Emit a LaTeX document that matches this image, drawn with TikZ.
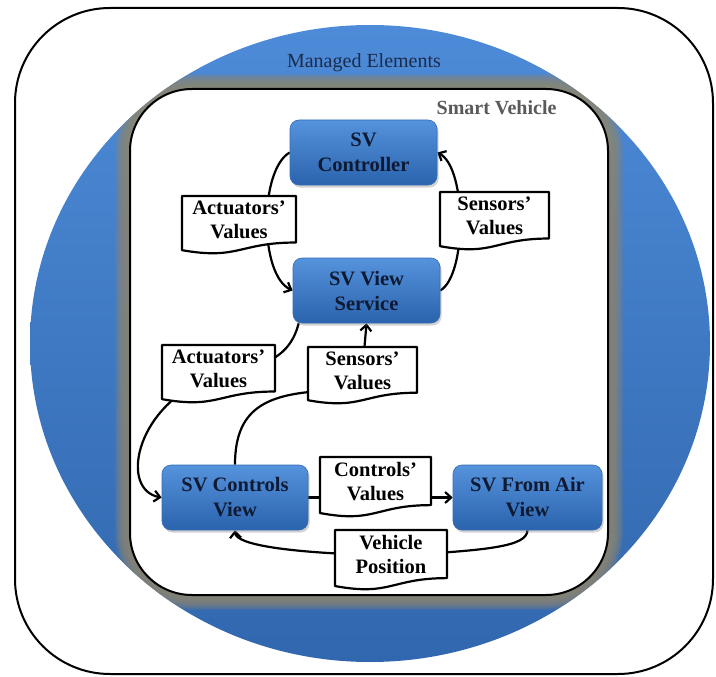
\documentclass[tikz,border=0pt]{standalone}
\usepackage{fontspec}
\setmainfont{Liberation Serif}
\usetikzlibrary{arrows.meta,shadows,calc}
\pgfdeclarelayer{back}
\pgfdeclarelayer{links}
\pgfsetlayers{back,links,main}

\definecolor{ringtop}{HTML}{4D8BD8}
\definecolor{ringbot}{HTML}{3167AE}
\definecolor{glow}{HTML}{8B8574}
\definecolor{boxtop}{HTML}{5593DC}
\definecolor{boxbot}{HTML}{2B63AD}
\definecolor{boxedge}{HTML}{336DB8}
\definecolor{boxtext}{HTML}{0E1A33}
\definecolor{titlenavy}{HTML}{1C2B4A}
\definecolor{svgray}{HTML}{5A5A5A}

\tikzset{
  svbox/.style={rounded corners=9pt, top color=boxtop, bottom color=boxbot,
    draw=boxedge, line width=0.6pt,
    drop shadow={opacity=0.35, shadow xshift=1.5pt, shadow yshift=-2.5pt},
    font=\bfseries\fontsize{20.5}{25}\selectfont, text=boxtext, align=center,
    inner sep=0pt},
  docshape/.style={fill=white, draw=black, line width=2.2pt, line join=round},
  doctext/.style={font=\bfseries\fontsize{20.5}{24}\selectfont, align=center,
    inner sep=0pt},
  link/.style={draw=black, line width=2.2pt},
  flow/.style={link, -{Straight Barb[length=6pt,width=11pt]}},
  frame/.style={fill=white, draw=black, line width=2pt},
}

% document symbol: name, left, top, width, height, text
\newcommand\docnode[6]{%
  \path[docshape] (#2,#3) -- ({#2+#4},#3) -- ({#2+#4},{#3+0.802*#5})
    .. controls ({#2+0.5*#4},{#3+0.802*#5}) and ({#2+0.5*#4},{#3+1.107*#5})
    .. (#2,{#3+0.934*#5}) -- cycle;
  \node[doctext] (#1) at ({#2+0.5*#4},{#3+0.41*#5}) {#6};
}

\begin{document}
\begin{tikzpicture}[x=1pt,y=-1pt]
\useasboundingbox (0,0) rectangle (716,677);

\begin{pgfonlayer}{back}
  % outer frame
  \path[frame, rounded corners=95pt] (15,8) rectangle (713,674);
  % managed elements disc
  \path[top color=ringtop, bottom color=ringbot]
    (370,343.5) ellipse [x radius=340pt, y radius=318.5pt];
  % soft grey rim around the smart vehicle panel
  \begin{scope}
    \clip (370,343.5) ellipse [x radius=340pt, y radius=318.5pt];
    \foreach \d in {15,14,...,1}{
      \pgfmathsetmacro\rr{62+\d}
      \fill[glow, opacity=0.17, rounded corners=\rr pt]
        ({130-\d},{89-\d}) rectangle ({608+\d},{595+\d});
    }
  \end{scope}
  % smart vehicle panel
  \path[frame, rounded corners=62pt] (130,89) rectangle (608,595);
\end{pgfonlayer}

\node[font=\fontsize{20}{24}\selectfont, text=titlenavy] (me) at (364,63) {Managed Elements};
\node[font=\bfseries\fontsize{20}{24}\selectfont, text=svgray, anchor=base east] (sv) at (560,115) {Smart Vehicle};

% components
\node[svbox, minimum width=147pt, minimum height=65pt] (ctrl) at (363.5,152.5) {SV\\Controller};
\node[svbox, minimum width=147pt, minimum height=65pt] (view) at (366.5,290.5) {SV View\\Service};
\node[svbox, minimum width=146pt, minimum height=65pt] (cview) at (235,497.5) {SV Controls\\View};
\node[svbox, minimum width=149pt, minimum height=65pt] (air) at (527.5,497.5) {SV From Air\\View};

% exchanged data
\docnode{act1}{182}{196}{114}{58}{Actuators’\\Values}
\docnode{sen1}{440}{192}{109}{58}{Sensors’\\Values}
\docnode{act2}{162}{345}{113}{58}{Actuators’\\Values}
\docnode{sen2}{308}{347}{109}{57}{Sensors’\\Values}
\docnode{ctl}{320}{457}{111}{60}{Controls’\\Values}
\docnode{veh}{335}{530}{112}{60}{Vehicle\\Position}

\begin{pgfonlayer}{links}
  % controller -> view service (actuators' values)
  \draw[flow] (ctrl.west) .. controls (259,170) and (259,275) .. (view.west);
  % view service -> controller (sensors' values)
  \draw[flow] (view.east) .. controls (467,275) and (467,168) .. (ctrl.east);
  % view service -> controls view (actuators' values)
  \draw[flow] ([xshift=6pt]view.south west) .. controls (293,345) and (280,362)
    .. ($(act2.center)+(25,0)$) -- ($(act2.center)+(-15,12)$)
    .. controls (135,410) and (120,490) .. (cview.west);
  % controls view -> view service (sensors' values)
  \draw[flow] (cview.north) .. controls (235,405) and (270,392)
    .. ($(sen2.center)+(-25,20)$) -- (sen2.center) -- (view.south);
  % controls view -> from air view (controls' values)
  \draw[flow] (cview.east) -- (air.west);
  % from air view -> controls view (vehicle position)
  \draw[flow] (air.south) .. controls (527,546) and (490,550)
    .. ($(veh.center)+(20,0)$) -- ($(veh.center)+(-30,0)$)
    .. controls (290,552) and (236,545) .. (cview.south);
\end{pgfonlayer}
\end{tikzpicture}
\end{document}
